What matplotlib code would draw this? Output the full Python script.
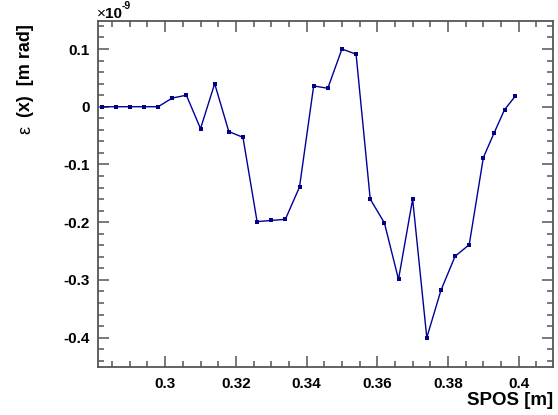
import matplotlib
matplotlib.use("Agg")
import matplotlib.pyplot as plt
from matplotlib.ticker import MultipleLocator, FixedLocator

# Data (emittance in units of 1e-9 m rad)
spos = [0.282, 0.286, 0.290, 0.294, 0.298, 0.302, 0.306, 0.310, 0.314, 0.318,
        0.322, 0.326, 0.330, 0.334, 0.338, 0.342, 0.346, 0.350, 0.354, 0.358,
        0.362, 0.366, 0.370, 0.374, 0.378, 0.382, 0.386, 0.390, 0.393, 0.396,
        0.399]
emit = [0.0, 0.0, 0.0, 0.0, 0.0, 0.015, 0.020, -0.038, 0.040, -0.043,
        -0.053, -0.199, -0.197, -0.195, -0.139, 0.036, 0.032, 0.100, 0.091, -0.160,
        -0.201, -0.299, -0.160, -0.400, -0.318, -0.259, -0.239, -0.088, -0.046, -0.005,
        0.018]
xticks = [0.30, 0.32, 0.34, 0.36, 0.38, 0.40]
xticklabels = ["0.3", "0.32", "0.34", "0.36", "0.38", "0.4"]
yticks = [-0.4, -0.3, -0.2, -0.1, 0.0, 0.1]
yticklabels = ["-0.4", "-0.3", "-0.2", "-0.1", "0", "0.1"]

plt.rcParams['font.family'] = ['Liberation Sans', 'DejaVu Sans']

W, H = 558, 415
fig = plt.figure(figsize=(W / 100, H / 100), dpi=100)
ax = fig.add_axes([98 / W, 1 - 367 / H, (553 - 98) / W, (367 - 21) / H])

ax.plot(spos, emit, color='#000099', lw=1.0, marker='s', markersize=2.2,
        markeredgewidth=0, markerfacecolor='#000088')

ax.set_xlim(0.2810, 0.4097)
ax.set_ylim(-0.4508, 0.1485)

axc = '#555555'
for s in ax.spines.values():
    s.set_color(axc)
    s.set_linewidth(1.3)

ax.xaxis.set_major_locator(FixedLocator(xticks))
ax.set_xticklabels(xticklabels)
ax.yaxis.set_major_locator(FixedLocator(yticks))
ax.set_yticklabels(yticklabels)
ax.xaxis.set_minor_locator(MultipleLocator(0.005))
ax.yaxis.set_minor_locator(MultipleLocator(0.02))

ax.tick_params(which='both', direction='in', top=True, right=True, color=axc, width=1.1)
ax.tick_params(which='major', length=8)
ax.tick_params(which='minor', length=4)
ax.tick_params(axis='x', which='major', pad=7)
ax.tick_params(axis='y', which='major', pad=6)
for lab in ax.get_xticklabels() + ax.get_yticklabels():
    lab.set_fontsize(11)
    lab.set_fontweight('bold')

fig.text(553 / W, 1 - 400 / H, "SPOS [m]", ha='right', va='center',
         fontsize=13.5, fontweight='bold')
fig.text(26 / W, 1 - 117 / H, "(x)  [m rad]", ha='center', va='bottom',
         rotation=90, fontsize=13, fontweight='bold')
fig.text(26 / W, 1 - 130 / H, "ε", ha='center', va='center',
         rotation=90, fontsize=13)

fig.text(97 / W, 1 - 18 / H, "×", ha='left', va='baseline', fontsize=11)
fig.text(104.5 / W, 1 - 18 / H, "10", ha='left', va='baseline', fontsize=11, fontweight='bold')
fig.text(121.5 / W, 1 - 9 / H, "-9", ha='left', va='baseline', fontsize=7.5, fontweight='bold')

fig.savefig("out.png", dpi=100)
